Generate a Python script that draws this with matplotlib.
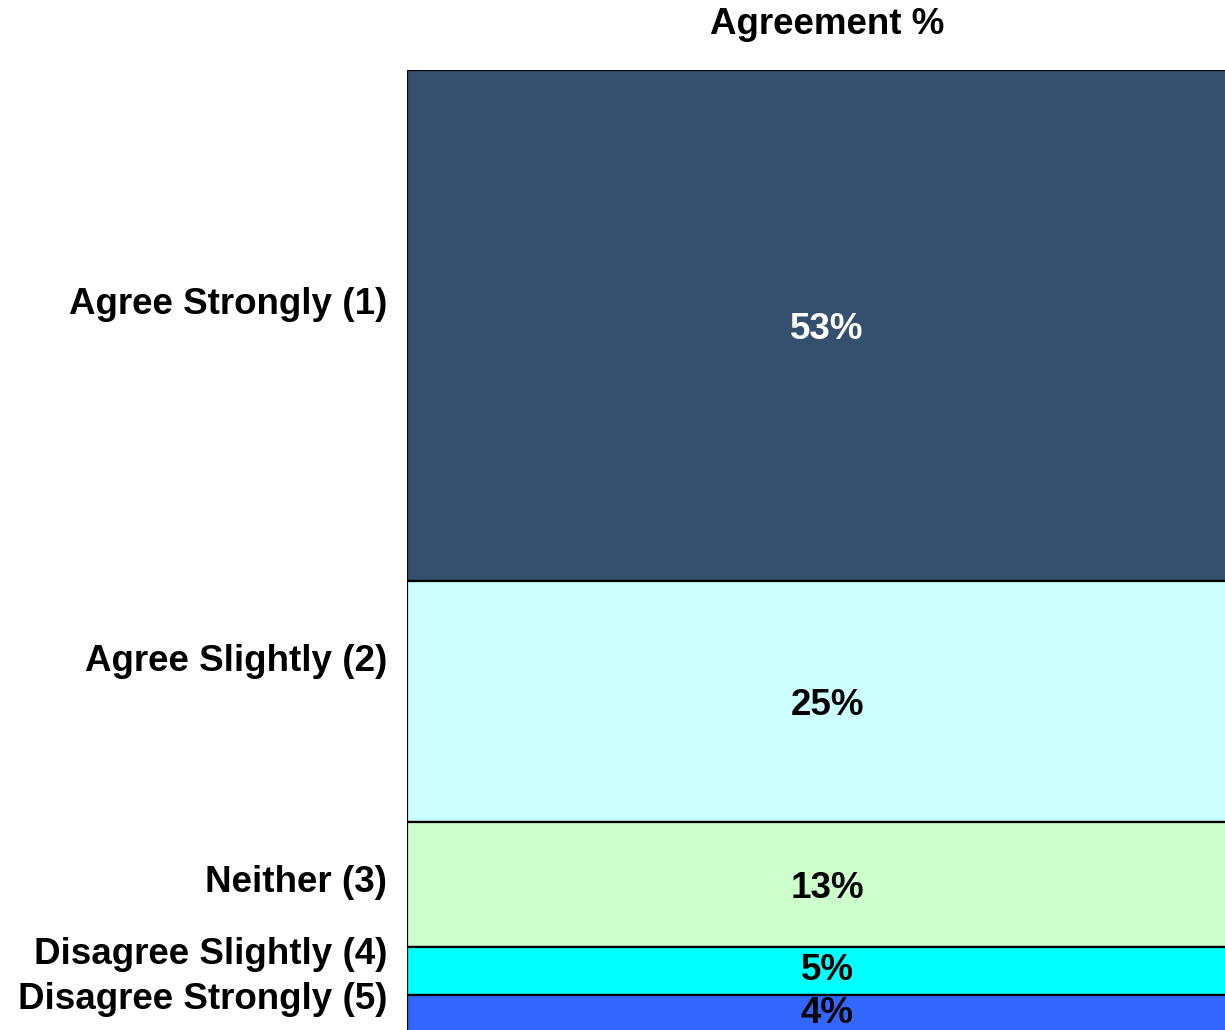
import matplotlib
matplotlib.use("Agg")
import matplotlib.pyplot as plt
import numpy as np

plt.rcParams['font.family'] = ['Liberation Sans', 'DejaVu Sans']

categories = ["Agree Strongly (1)", "Agree Slightly (2)", "Neither (3)",
              "Disagree Slightly (4)", "Disagree Strongly (5)"]
values = [53, 25, 13, 5, 4]
value_labels = ["53%", "25%", "13%", "5%", "4%"]
colors = ["#34506e", "#ccffff", "#ccffcc", "#00ffff", "#3366ff"]
text_colors = ["white", "black", "black", "black", "black"]
label_positions = [23.9, 60.9, 83.9, 91.3, 96.0]

W, H = 1225, 1030
FS = 26.5
fig = plt.figure(figsize=(W / 100, H / 100), dpi=100)
left = 407 / W
width = 840 / W
top = 70
bottom_px = 1034
ax = fig.add_axes([left, 1 - bottom_px / H, width, (bottom_px - top) / H])

cum = np.concatenate([[0], np.cumsum(values)[:-1]])
ax.bar(0, values, bottom=cum, width=1.0, color=colors, edgecolor="black",
       linewidth=1.6)
for v, b, lab, tc in zip(values, cum, value_labels, text_colors):
    yc = b + v / 2 - (0.5 if v < 10 else 0.0)
    ax.text(0, yc, lab, ha="center", va="center_baseline", color=tc,
            fontsize=FS, fontweight="bold")

ax.set_xlim(-0.5, 0.5)
ax.set_ylim(100, 0)
ax.set_xticks([])
ax.set_yticks(label_positions)
ax.set_yticklabels(categories, fontsize=FS, fontweight="bold")
ax.tick_params(axis="y", length=0, pad=14.4)
for s in ax.spines.values():
    s.set_visible(False)

fig.text((407 + 420) / W, 1 - 21 / H, "Agreement %", ha="center",
         va="center_baseline", fontsize=FS, fontweight="bold")

fig.savefig("out.png", dpi=100)
